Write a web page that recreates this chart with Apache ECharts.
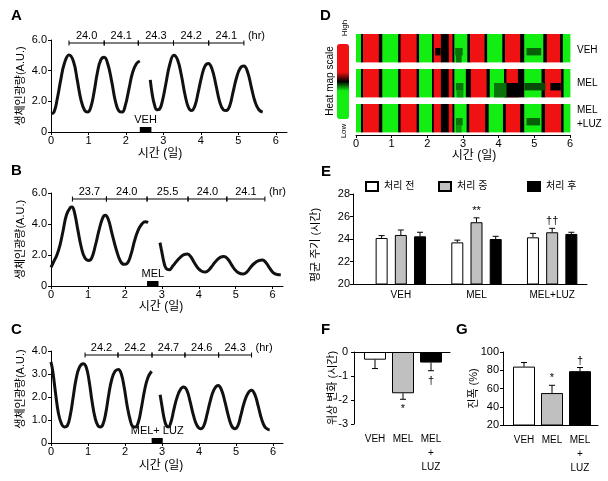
<!DOCTYPE html>
<html><head><meta charset="utf-8">
<script src="https://cdn.jsdelivr.net/npm/echarts@6/dist/echarts.min.js"></script>
<style>html,body{margin:0;padding:0;background:#fff}#c{width:608px;height:481px}</style>
</head><body><div id="c"></div>
<script>
const FF = '"Liberation Sans", "Noto Sans CJK KR", Arial, sans-serif';
const dayTicks = [0, 1, 2, 3, 4, 5, 6];

// ---- Panel A (VEH) ----
const curveA1 = [[0,1.2],[0.08,1.3],[0.17,2.2],[0.26,3.4],[0.36,4.5],[0.48,5.02],[0.6,4.6],[0.7,3.4],[0.8,2.1],[0.9,1.4],[0.98,1.3],[1.06,1.6],[1.15,2.6],[1.24,3.9],[1.33,4.7],[1.42,4.87],[1.52,4.4],[1.62,3.3],[1.72,2.0],[1.82,1.35],[1.9,1.3],[1.98,1.7],[2.08,2.8],[2.18,3.9],[2.28,4.45],[2.37,4.63]];
const curveA2 = [[2.65,3.4],[2.7,2.5],[2.76,1.8],[2.83,1.45],[2.9,1.5],[2.98,2.1],[3.07,3.2],[3.17,4.4],[3.28,5.0],[3.38,4.7],[3.48,3.7],[3.58,2.4],[3.67,1.6],[3.75,1.4],[3.84,1.7],[3.93,2.6],[4.02,3.6],[4.11,4.3],[4.2,4.47],[4.3,4.1],[4.4,3.1],[4.5,2.0],[4.6,1.45],[4.68,1.4],[4.77,1.7],[4.86,2.6],[4.96,3.6],[5.06,4.2],[5.15,4.3],[5.25,3.9],[5.35,2.9],[5.45,1.95],[5.55,1.45],[5.65,1.3]];
const peaksA = [0.48, 1.42, 2.33, 3.27, 4.21, 5.15];
const periodsA = ['24.0', '24.1', '24.3', '24.2', '24.1'];
const treatA = [2.37, 2.68];
const treatLabelA = 'VEH';

// ---- Panel B (MEL) ----
const curveB1 = [[0,1.2],[0.08,1.6],[0.16,2.0],[0.24,2.6],[0.33,3.6],[0.42,4.6],[0.52,5.05],[0.57,5.1],[0.63,4.8],[0.72,3.7],[0.82,2.5],[0.92,1.8],[1.02,1.65],[1.1,1.8],[1.2,2.6],[1.3,3.6],[1.4,4.4],[1.47,4.56],[1.55,4.3],[1.65,3.4],[1.76,2.4],[1.88,1.6],[1.98,1.4],[2.06,1.45],[2.16,2.0],[2.26,2.9],[2.36,3.6],[2.46,4.0],[2.55,4.15],[2.63,4.1]];
const curveB2 = [[2.95,2.8],[3.0,2.2],[3.06,1.5],[3.12,1.12],[3.2,1.05],[3.3,1.3],[3.4,1.6],[3.5,1.85],[3.6,2.02],[3.69,2.07],[3.78,1.9],[3.88,1.5],[3.98,1.15],[4.08,0.95],[4.18,0.9],[4.28,1.05],[4.38,1.35],[4.48,1.65],[4.58,1.85],[4.68,1.9],[4.78,1.75],[4.88,1.4],[4.98,1.05],[5.08,0.85],[5.2,0.78],[5.3,0.9],[5.4,1.2],[5.5,1.45],[5.62,1.63],[5.72,1.68],[5.82,1.5],[5.92,1.15],[6.02,0.85],[6.12,0.74],[6.22,0.72]];
const peaksB = [0.58, 1.5, 2.6, 3.71, 4.76, 5.79];
const periodsB = ['23.7', '24.0', '25.5', '24.0', '24.1'];
const treatB = [2.6, 2.91];
const treatLabelB = 'MEL';

// ---- Panel C (MEL+LUZ) ----
const curveC1 = [[0,3.52],[0.05,3.1],[0.12,2.2],[0.2,1.3],[0.28,0.85],[0.36,0.7],[0.44,0.75],[0.52,1.2],[0.6,2.0],[0.68,2.8],[0.77,3.3],[0.87,3.45],[0.95,3.3],[1.03,2.7],[1.11,1.8],[1.19,1.1],[1.27,0.75],[1.33,0.7],[1.4,0.8],[1.48,1.3],[1.56,2.1],[1.64,2.75],[1.73,3.12],[1.82,3.2],[1.9,3.0],[1.98,2.4],[2.06,1.6],[2.14,1.0],[2.21,0.72],[2.28,0.7],[2.36,0.9],[2.44,1.5],[2.53,2.3],[2.62,2.85],[2.72,3.12]];
const curveC2 = [[2.95,2.1],[3.0,1.6],[3.06,1.05],[3.12,0.75],[3.17,0.7],[3.24,0.9],[3.32,1.45],[3.4,1.95],[3.49,2.3],[3.58,2.43],[3.67,2.3],[3.76,1.8],[3.85,1.2],[3.95,0.75],[4.05,0.62],[4.13,0.75],[4.21,1.2],[4.3,1.8],[4.4,2.3],[4.52,2.5],[4.61,2.3],[4.7,1.8],[4.79,1.2],[4.88,0.75],[4.97,0.62],[5.05,0.75],[5.13,1.2],[5.22,1.75],[5.32,2.15],[5.42,2.29],[5.51,2.1],[5.6,1.6],[5.69,1.05],[5.78,0.7],[5.86,0.6],[5.91,0.58]];
const peaksC = [0.92, 1.81, 2.73, 3.62, 4.53, 5.42];
const periodsC = ['24.2', '24.2', '24.7', '24.6', '24.3'];
const treatC = [2.72, 3.02];
const treatLabelC = 'MEL+ LUZ';

// ---- Panel D heat map: [start day, end day, level 0=low(green) .5=mid 1=high(red)] ----
const heatPre = [[0,0.14,0],[0.14,0.2,0.5],[0.2,0.64,1],[0.64,0.74,0.5],[0.74,1.18,0],[1.18,1.25,0.5],[1.25,1.7,1],[1.7,1.77,0.5],[1.77,2.13,0],[2.13,2.18,0.5],[2.18,2.38,1],[2.38,2.6,0.5],[2.6,2.7,1],[2.7,2.76,0.5]];
const heatPostVEH = [[2.76,3.12,0],[3.12,3.2,0.5],[3.2,3.6,1],[3.6,3.68,0.5],[3.68,4.1,0],[4.1,4.18,0.5],[4.18,4.6,1],[4.6,4.72,0.5],[4.72,5.25,0],[5.25,5.35,0.5],[5.35,5.72,1],[5.72,5.8,0.5],[5.8,6,0]];
const heatPostMEL = [[2.76,3.08,0],[3.08,3.22,0.5],[3.22,3.66,1],[3.66,3.75,0.5],[3.75,4.15,0],[4.15,4.22,0.5],[4.22,4.54,1],[4.54,4.72,0.5],[4.72,5.2,0],[5.2,5.3,0.5],[5.3,5.75,1],[5.75,5.82,0.5],[5.82,6,0]];
const heatPostLUZ = [[2.76,3.1,0],[3.1,3.18,0.5],[3.18,3.62,1],[3.62,3.72,0.5],[3.72,4.12,0],[4.12,4.2,0.5],[4.2,4.6,1],[4.6,4.72,0.5],[4.72,5.2,0],[5.2,5.3,0.5],[5.3,5.75,1],[5.75,5.82,0.5],[5.82,6,0]];
// patches: [start, end, sub-row, level]
const patchVEH = [[2.22,2.36,2,0.5],[2.78,2.98,2,0.44],[2.8,2.95,3,0.44],[4.78,5.18,2,0.45]];
const patchMEL = [[2.8,3.0,2,0.44],[2.82,3.0,3,0.42],[3.87,4.22,2,0.44],[3.87,4.22,3,0.44],[4.22,4.54,2,0.5],[4.22,4.54,3,0.5],[4.72,5.3,2,0.46],[5.45,5.73,2,0.5]];
const patchLUZ = [[2.8,2.98,2,0.44],[2.8,2.95,3,0.42],[4.78,5.15,2,0.45]];
const heatRowLabels = ['VEH', 'MEL', 'MEL\n+LUZ'];

// ---- Panel E ----
const groupsE = ['VEH', 'MEL', 'MEL+LUZ'];
const phaseNamesE = ['처리 전', '처리 중', '처리 후'];
const preE = [24.09, 23.70, 24.15];
const preErrE = [0.21, 0.20, 0.35];
const durE = [24.36, 25.49, 24.60];
const durErrE = [0.44, 0.39, 0.35];
const postE = [24.24, 24.00, 24.45];
const postErrE = [0.36, 0.24, 0.15];
const sigDurE = ['', '**', '††'];

// ---- Panel F ----
const catsF = ['VEH', 'MEL', 'MEL\n+\nLUZ'];
const valF = [-0.32, -1.72, -0.44];
const errF = [0.37, 0.25, 0.34];
const sigF = ['', '*', '†'];

// ---- Panel G ----
const catsG = ['VEH', 'MEL', 'MEL\n+\nLUZ'];
const valG = [84, 55, 79];
const errG = [4.5, 8.5, 4];
const sigG = ['', '*', '†'];

const GREEN = '#12ee12', RED = '#f01212', GRAY = '#c0c0c0';
const barColors = ['#ffffff', GRAY, '#000000'];

function txt(extra) { return Object.assign({color:'#000', fontFamily:FF, fontSize:11}, extra || {}); }
const AL = {show:true, onZero:false, lineStyle:{color:'#000', width:1}};
const TK = {show:true, length:3, lineStyle:{color:'#000', width:1}};
const NOSPLIT = {show:false};

function dayXAxis(g, max, gap, pad) {
  return {gridIndex:g, type:'value', min:0, max:max, axisLine:AL,
    axisTick:Object.assign({}, TK, {customValues:dayTicks}),
    axisLabel:txt({customValues:dayTicks, margin:3}), splitLine:NOSPLIT,
    name:'시간 (일)', nameLocation:'middle', nameGap:gap, nameTextStyle:txt({fontSize:12, padding:pad})};
}
function sigYAxis(g, max, interval, fmt, pad) {
  return {gridIndex:g, type:'value', min:0, max:max, interval:interval, axisLine:AL, axisTick:TK,
    axisLabel:txt({margin:4, formatter:fmt}), splitLine:NOSPLIT,
    name:'생체인광량(A.U.)', nameLocation:'middle', nameGap:25, nameMoveOverlap:false, nameTextStyle:txt({padding:pad})};
}
const fmt1 = v => v === 0 ? '0' : v.toFixed(1);

function lineSeries(g, data) {
  return {type:'line', xAxisIndex:g, yAxisIndex:g, data:data, smooth:0.45, showSymbol:false, symbol:'none',
    lineStyle:{color:'#111', width:3}, silent:true, z:3};
}
function bracketSeries(g, peaks, labels, off) {
  const data = [];
  for (let i = 0; i < peaks.length - 1; i++) data.push([peaks[i], peaks[i + 1]]);
  return {type:'custom', xAxisIndex:g, yAxisIndex:g, data:data, encode:{x:[0, 1]}, clip:false, silent:true,
    renderItem(params, api) {
      const y = params.coordSys.y + off;
      const xa = api.coord([api.value(0), 0])[0], xb = api.coord([api.value(1), 0])[0];
      const st = {stroke:'#000', lineWidth:1};
      const ch = [
        {type:'line', shape:{x1:xa, y1:y, x2:xb, y2:y}, style:st},
        {type:'line', shape:{x1:xa, y1:y - 2.5, x2:xa, y2:y + 2.5}, style:st},
        {type:'line', shape:{x1:xb, y1:y - 2.5, x2:xb, y2:y + 2.5}, style:st},
        {type:'text', x:(xa + xb) / 2, y:y - 7, style:{text:labels[params.dataIndex], fill:'#000', fontSize:11, fontFamily:FF, align:'center', verticalAlign:'middle'}}
      ];
      if (params.dataIndex === data.length - 1)
        ch.push({type:'text', x:xb + 4, y:y - 7, style:{text:'(hr)', fill:'#000', fontSize:11, fontFamily:FF, align:'left', verticalAlign:'middle'}});
      return {type:'group', children:ch};
    }};
}
function treatSeries(g, range, label) {
  return {type:'custom', xAxisIndex:g, yAxisIndex:g, data:[range], encode:{x:[0, 1]}, clip:false, silent:true,
    renderItem(params, api) {
      const p0 = api.coord([api.value(0), 0]), p1 = api.coord([api.value(1), 0]);
      return {type:'group', children:[
        {type:'rect', shape:{x:p0[0], y:p0[1] - 5, width:p1[0] - p0[0], height:5}, style:{fill:'#000'}},
        {type:'text', x:(p0[0] + p1[0]) / 2, y:p0[1] - 12, style:{text:label, fill:'#000', fontSize:11, fontFamily:FF, align:'center', verticalAlign:'middle'}}
      ]};
    }};
}
function errSeries(g, vals, errs, offset, dir, sig, sigGap) {
  return {type:'custom', xAxisIndex:g, yAxisIndex:g, data:vals.map((v, i) => [i, v, errs[i]]), clip:false, silent:true, z:5,
    renderItem(params, api) {
      const c = api.value(0), v = api.value(1), e = api.value(2);
      const p0 = api.coord([c, v]), p1 = api.coord([c, v + dir * e]);
      const x = p0[0] + offset;
      const st = {stroke:'#000', lineWidth:1};
      const ch = [
        {type:'line', shape:{x1:x, y1:p0[1], x2:x, y2:p1[1]}, style:st},
        {type:'line', shape:{x1:x - 3, y1:p1[1], x2:x + 3, y2:p1[1]}, style:st}
      ];
      const s = sig[params.dataIndex];
      if (s) ch.push({type:'text', x:x, y:p1[1] - dir * sigGap, style:{text:s, fill:'#000', fontSize:11, fontFamily:FF, align:'center', verticalAlign:'middle'}});
      return {type:'group', children:ch};
    }};
}

// heat data build
const heatData = [];
[[heatPostVEH, patchVEH], [heatPostMEL, patchMEL], [heatPostLUZ, patchLUZ]].forEach((pp, g) => {
  const base = g * 5;
  for (let s = 0; s < 4; s++) heatPre.concat(pp[0]).forEach(seg => heatData.push([seg[0], seg[1], base + s, seg[2]]));
  pp[1].forEach(p => heatData.push([p[0], p[1], base + p[2], p[3]]));
});

const grids = [
  {left:51, top:40, width:236, height:92},      // 0 A
  {left:51, top:193, width:232, height:93},     // 1 B
  {left:51, top:351, width:232, height:92},     // 2 C
  {left:356, top:34, width:214, height:98},     // 3 D heat
  {left:356, top:34, width:214, height:101},    // 4 D axis
  {left:363, top:194, width:227, height:90},    // 5 E bars
  {left:353, top:194, width:234, height:90},    // 6 E axis line
  {left:361, top:352, width:84, height:72},     // 7 F bars
  {left:354, top:352, width:96, height:72},     // 8 F axis line
  {left:510, top:352, width:84, height:73},     // 9 G bars
  {left:503, top:352, width:95, height:73}      // 10 G axis line
];

const hiddenX = g => ({gridIndex:g, type:'value', min:0, max:1, show:false});
const hiddenY = g => ({gridIndex:g, type:'value', min:0, max:1, show:false});
const decoX = (g, pos) => ({gridIndex:g, type:'value', min:0, max:1, position:pos, axisLine:AL, axisTick:{show:false}, axisLabel:{show:false}, splitLine:NOSPLIT});
const catX = (g, data, margin, lh) => ({gridIndex:g, type:'category', data:data, position:'bottom', axisLine:{show:false, onZero:false}, axisTick:{show:false}, axisLabel:txt({fontSize:10, margin:margin, lineHeight:lh, interval:0}), splitLine:NOSPLIT});

const xAxis = [
  dayXAxis(0, 6.3, 16, [0, 18, 0, 0]),
  dayXAxis(1, 6.28, 14, [0, 12, 0, 0]),
  dayXAxis(2, 6.27, 17, [0, 12, 0, 0]),
  {gridIndex:3, type:'value', min:0, max:6, show:false},
  Object.assign(dayXAxis(4, 6, 13, [0, 0, 0, 22]), {interval:1}),
  catX(5, groupsE, 5, 12),
  decoX(6, 'bottom'),
  catX(7, catsF, 8, 14),
  decoX(8, 'top'),
  catX(9, catsG, 8, 14),
  decoX(10, 'bottom')
];
const yAxis = [
  sigYAxis(0, 6, 2, fmt1, [0, 0, 0, 0]),
  sigYAxis(1, 6, 2, fmt1, [0, 0, 0, 0]),
  sigYAxis(2, 4, 1, fmt1, [0, 0, 0, 16]),
  {gridIndex:3, type:'value', min:0, max:14, inverse:true, show:false},
  hiddenY(4),
  {gridIndex:5, type:'value', min:20, max:28, interval:2, offset:10, axisLine:AL, axisTick:TK, axisLabel:txt({margin:3}), splitLine:NOSPLIT,
    name:'평균 주기 (시간)', nameLocation:'middle', nameGap:32, nameMoveOverlap:false, nameTextStyle:txt({padding:[0, 12, 0, 0]})},
  hiddenY(6),
  {gridIndex:7, type:'value', min:-3, max:0, interval:1, offset:7, axisLine:AL, axisTick:TK, axisLabel:txt({margin:6}), splitLine:NOSPLIT,
    name:'위상 변화 (시간)', nameLocation:'middle', nameGap:16, nameMoveOverlap:false, nameTextStyle:txt()},
  hiddenY(8),
  {gridIndex:9, type:'value', min:20, max:100, interval:20, offset:7, axisLine:AL, axisTick:TK, axisLabel:txt({margin:4}), splitLine:NOSPLIT,
    name:'진폭 (%)', nameLocation:'middle', nameGap:24, nameMoveOverlap:false, nameTextStyle:txt()},
  hiddenY(10)
];

const series = [
  lineSeries(0, curveA1), lineSeries(0, curveA2), bracketSeries(0, peaksA, periodsA, 3), treatSeries(0, treatA, treatLabelA),
  lineSeries(1, curveB1), lineSeries(1, curveB2), bracketSeries(1, peaksB, periodsB, 6), treatSeries(1, treatB, treatLabelB),
  lineSeries(2, curveC1), lineSeries(2, curveC2), bracketSeries(2, peaksC, periodsC, 4), treatSeries(2, treatC, treatLabelC)
];
const HEAT_INDEX = series.length;
series.push({type:'custom', xAxisIndex:3, yAxisIndex:3, data:heatData, encode:{x:[0, 1], y:2}, silent:true,
  renderItem(params, api) {
    const p0 = api.coord([api.value(0), api.value(2)]), p1 = api.coord([api.value(1), api.value(2) + 1]);
    const col = api.visual('color');
    return {type:'rect', shape:{x:p0[0], y:Math.min(p0[1], p1[1]), width:p1[0] - p0[0] + 0.4, height:Math.abs(p1[1] - p0[1]) + 0.4},
      style:{fill:col, stroke:null}};
  }});
[[preE, preErrE, -19.2, ['', '', '']], [durE, durErrE, 0, sigDurE], [postE, postErrE, 19.2, ['', '', '']]].forEach((d, k) => {
  series.push({type:'bar', name:phaseNamesE[k], xAxisIndex:5, yAxisIndex:5, data:d[0], barWidth:12, barGap:'60%',
    itemStyle:{color:barColors[k], borderColor:'#000', borderWidth:1}, silent:true});
});
[[preE, preErrE, -19.2, ['', '', '']], [durE, durErrE, 0, sigDurE], [postE, postErrE, 19.2, ['', '', '']]].forEach(d => {
  series.push(errSeries(5, d[0], d[1], d[2], 1, d[3], 7));
});
series.push({type:'bar', xAxisIndex:7, yAxisIndex:7, barWidth:22, silent:true,
  data:valF.map((v, i) => ({value:v, itemStyle:{color:barColors[i], borderColor:'#000', borderWidth:1}}))});
series.push(errSeries(7, valF, errF, 0, -1, sigF, 10));
series.push({type:'bar', xAxisIndex:9, yAxisIndex:9, barWidth:22, silent:true,
  data:valG.map((v, i) => ({value:v, itemStyle:{color:barColors[i], borderColor:'#000', borderWidth:1}}))});
series.push(errSeries(9, valG, errG, 0, 1, sigG, 7));

const legendLefts = [365, 438, 527];
const legend = phaseNamesE.map((n, k) => ({data:[n], left:legendLefts[k], top:181, padding:0, itemWidth:12, itemHeight:9, itemGap:5,
  icon:'rect', selectedMode:false, textStyle:txt({fontSize:10, padding:[0, 0, 0, 1]})}));

const letter = (t, x, y) => ({type:'text', left:x, top:y, style:{text:t, fontSize:15, fontWeight:'bold', fontFamily:'"Liberation Sans", Arial, sans-serif', fill:'#000'}});
const rot = (t, cx, cy, fs) => ({type:'text', x:cx, y:cy, rotation:Math.PI / 2, style:{text:t, fontSize:fs, fontFamily:FF, fill:'#000', align:'center', verticalAlign:'middle'}});
const graphic = [
  letter('A', 11, 8), letter('B', 11, 163), letter('C', 11, 322),
  letter('D', 320, 8), letter('E', 321, 164), letter('F', 321, 322), letter('G', 456, 322),
  rot('Heat map scale', 330, 81, 10), rot('High', 345, 28, 8), rot('Low', 344, 131, 8),
  {type:'text', x:577, y:50, style:{text:heatRowLabels[0], fontSize:10, fontFamily:FF, fill:'#000', verticalAlign:'middle'}},
  {type:'text', x:577, y:83.5, style:{text:heatRowLabels[1], fontSize:10, fontFamily:FF, fill:'#000', verticalAlign:'middle'}},
  {type:'text', x:577, y:117.5, style:{text:heatRowLabels[2], fontSize:10, lineHeight:14, fontFamily:FF, fill:'#000', verticalAlign:'middle'}}
];

const chart = echarts.init(document.getElementById('c'), null, {renderer:'canvas'});
chart.setOption({
  animation:false,
  backgroundColor:'#fff',
  textStyle:{fontFamily:FF},
  grid:grids, xAxis:xAxis, yAxis:yAxis, series:series, legend:legend, graphic:graphic,
  visualMap:[{type:'continuous', seriesIndex:HEAT_INDEX, dimension:3, min:0, max:1, left:337, top:44,
    itemWidth:12, itemHeight:75, padding:0, calculable:false, hoverLink:false, realtime:false,
    inRange:{color:[GREEN, GREEN, GREEN, GREEN, '#000000', RED, RED, RED, RED]}}]
});
</script></body></html>
